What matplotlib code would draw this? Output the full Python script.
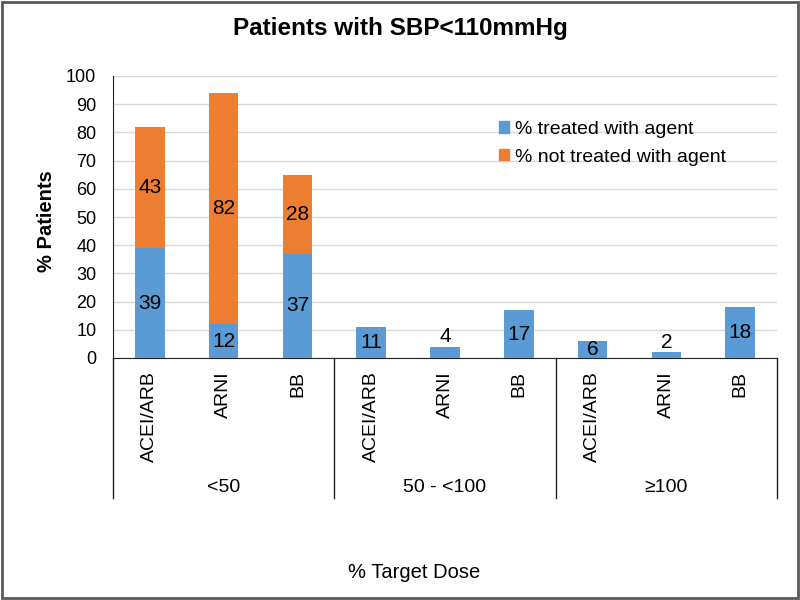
import matplotlib
matplotlib.use("Agg")
import matplotlib.pyplot as plt
from matplotlib.patches import Rectangle, Patch
import numpy as np

plt.rcParams['font.family'] = ['Liberation Sans', 'DejaVu Sans']

agents = ["ACEI/ARB", "ARNI", "BB"]
dose_groups = ["<50", "50 - <100", "\u2265100"]
treated = [39, 12, 37, 11, 4, 17, 6, 2, 18]
not_treated = [43, 82, 28, 0, 0, 0, 0, 0, 0]
series_names = ["% treated with agent", "% not treated with agent"]
colors = ["#5B9BD5", "#ED7D31"]

fig = plt.figure(figsize=(8, 6), dpi=100)
ax = fig.add_axes([113/800, 242/600, 664/800, 282/600])

n = len(treated)
x = np.arange(n)
w = 0.4
ax.bar(x, treated, width=w, color=colors[0], zorder=3)
ax.bar(x, not_treated, width=w, bottom=treated, color=colors[1], zorder=3)

for i in range(n):
    t = treated[i]
    if t < 5:
        ax.text(x[i], t + 0.2, str(t), ha='center', va='bottom', fontsize=15, zorder=4)
    else:
        ax.text(x[i], t / 2, str(t), ha='center', va='center', fontsize=15, zorder=4)
    nt = not_treated[i]
    if nt > 0:
        ax.text(x[i], t + nt / 2, str(nt), ha='center', va='center', fontsize=15, zorder=4)

ax.set_xlim(-0.5, n - 0.5)
ax.set_ylim(0, 100)
ax.set_yticks(np.arange(0, 101, 10))
ax.tick_params(axis='y', length=0, pad=12, labelsize=13)
ax.set_xticks([])
ax.grid(axis='y', color='#D9D9D9', linewidth=1, zorder=0)
for s in ['top', 'right']:
    ax.spines[s].set_visible(False)
ax.spines['left'].set_color('#222222')
ax.spines['bottom'].set_color('#222222')

tr = ax.get_xaxis_transform()
ybot = -(498 - 358) / 282
for k in range(len(dose_groups) + 1):
    xs = -0.5 + 3 * k
    ax.plot([xs, xs], [0, ybot], transform=tr, color='#222222', lw=1, clip_on=False)

for i in range(n):
    ax.text(x[i], -(371 - 358) / 282, agents[i % 3], transform=tr, rotation=90,
            ha='center', va='top', fontsize=14)

for g, name in enumerate(dose_groups):
    ax.text(3 * g + 1, -(487 - 358) / 282, name, transform=tr, ha='center', va='center', fontsize=14)

fig.text(414/800, 1 - 572/600, "% Target Dose", ha='center', va='center', fontsize=14.5)
fig.text(47/800, 1 - 221/600, "% Patients", ha='center', va='center', rotation=90,
         fontsize=14.5, fontweight='bold')
fig.text(400/800, 1 - 29/600, "Patients with SBP<110mmHg", ha='center', va='center',
         fontsize=17.5, fontweight='bold')

handles = [Patch(color=colors[0]), Patch(color=colors[1])]
fig.legend(handles, series_names, loc='upper left', bbox_to_anchor=(499/800, 1 - 121/600),
           frameon=False, fontsize=14, handlelength=0.52, handleheight=0.52,
           handletextpad=0.3, labelspacing=0.55, borderpad=0, borderaxespad=0)

fig.patches.append(Rectangle((2/800, 2/600), 796/800, 596/600, transform=fig.transFigure,
                             fill=False, edgecolor='#595959', linewidth=2))

fig.savefig("out.png", dpi=100)
